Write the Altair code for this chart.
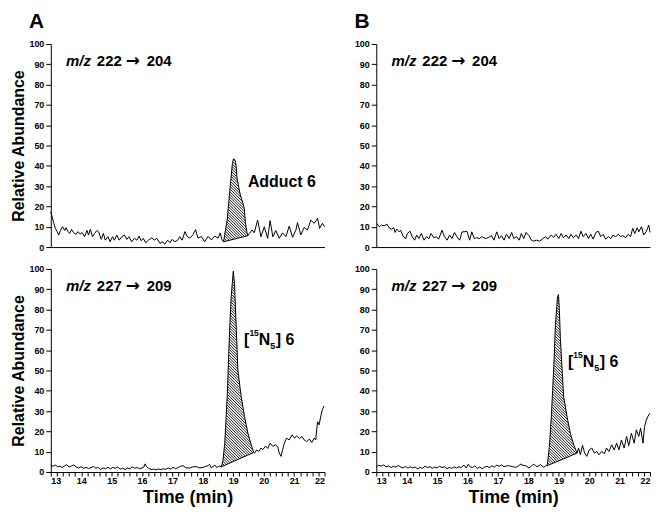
import altair as alt
import numpy as np
import pandas as pd

# ---------------- data ----------------
A_TOP_T = [13.00, 13.10, 13.15, 13.21, 13.26, 13.32, 13.39, 13.46, 13.50, 13.57, 13.62, 13.68, 13.75, 13.83,
           13.89, 13.97, 14.03, 14.11, 14.19, 14.24, 14.30, 14.37, 14.44, 14.52, 14.57, 14.66, 14.73, 14.79,
           14.88, 14.95, 15.03, 15.09, 15.17, 15.25, 15.33, 15.42, 15.50, 15.57, 15.66, 15.75, 15.83, 15.90,
           15.97, 16.04, 16.12, 16.21, 16.32, 16.40, 16.48, 16.59, 16.66, 16.75, 16.84, 16.92, 16.99, 17.08,
           17.17, 17.24, 17.32, 17.41, 17.49, 17.57, 17.68, 17.76, 17.84, 17.95, 18.06, 18.17, 18.28, 18.39,
           18.50, 18.57, 18.63, 18.68, 18.80, 18.90, 18.97, 19.01, 19.07, 19.10, 19.12, 19.16, 19.23, 19.32,
           19.36, 19.40, 19.45, 19.48, 19.53, 19.62, 19.69, 19.80, 19.91, 20.02, 20.13, 20.21, 20.30, 20.40,
           20.51, 20.62, 20.73, 20.84, 20.95, 21.06, 21.11, 21.22, 21.33, 21.44, 21.55, 21.66, 21.77, 21.84,
           21.93, 22.00]
A_TOP_V = [17.4, 11.7, 9.2, 7.6, 5.9, 8.2, 10.0, 8.2, 9.5, 7.6, 6.7, 8.7, 7.1, 6.2,
           7.6, 6.4, 7.1, 5.1, 8.2, 5.9, 8.7, 5.1, 6.7, 8.2, 7.6, 3.8, 6.7, 3.4,
           5.1, 2.6, 5.1, 3.4, 5.9, 3.4, 5.1, 5.9, 3.8, 5.1, 2.6, 4.3, 3.4, 5.4,
           3.1, 4.3, 2.1, 3.4, 4.6, 3.4, 4.3, 1.8, 2.6, 1.5, 3.4, 2.1, 3.8, 2.6,
           3.4, 5.1, 3.4, 7.6, 5.1, 4.4, 6.1, 8.6, 4.4, 5.2, 2.6, 5.2, 3.5, 5.4,
           4.4, 6.9, 3.5, 2.6, 13.3, 30.0, 41.0, 43.5, 42.5, 39.0, 34.0, 31.0, 25.6, 21.5,
           19.0, 12.0, 7.0, 5.6, 6.7, 8.4, 7.0, 13.3, 5.1, 10.0, 4.3, 13.0, 5.1, 8.1,
           4.3, 7.0, 5.1, 10.3, 4.8, 8.4, 12.0, 6.0, 9.7, 8.4, 13.3, 11.7, 14.1, 9.2,
           11.7, 10.0]
A_TOP_PEAK = [18.68, 19.48]

B_TOP_T = [13.02, 13.10, 13.17, 13.26, 13.35, 13.42, 13.50, 13.57, 13.62, 13.67, 13.75, 13.80, 13.89, 13.97,
           14.02, 14.11, 14.18, 14.26, 14.33, 14.40, 14.48, 14.57, 14.65, 14.73, 14.80, 14.89, 14.98, 15.05,
           15.16, 15.24, 15.33, 15.41, 15.49, 15.57, 15.65, 15.74, 15.82, 15.89, 15.98, 16.07, 16.14, 16.22,
           16.30, 16.39, 16.47, 16.58, 16.68, 16.79, 16.87, 16.96, 17.04, 17.12, 17.20, 17.28, 17.37, 17.45,
           17.52, 17.61, 17.70, 17.77, 17.85, 17.93, 18.02, 18.10, 18.17, 18.26, 18.37, 18.48, 18.57, 18.64,
           18.75, 18.83, 18.91, 19.00, 19.08, 19.15, 19.24, 19.33, 19.40, 19.48, 19.57, 19.65, 19.73, 19.80,
           19.89, 19.98, 20.05, 20.13, 20.22, 20.30, 20.38, 20.46, 20.54, 20.63, 20.71, 20.78, 20.87, 20.96,
           21.03, 21.11, 21.20, 21.28, 21.36, 21.43, 21.50, 21.58, 21.63, 21.72, 21.79, 21.87, 21.96, 22.00]
B_TOP_V = [11.6, 10.0, 10.8, 10.5, 11.3, 9.5, 8.8, 9.5, 7.2, 8.8, 7.5, 8.3, 5.1, 4.2,
           6.7, 7.8, 5.1, 3.4, 5.9, 4.2, 6.7, 3.4, 5.1, 4.2, 6.7, 4.6, 5.1, 3.9,
           8.3, 5.1, 3.4, 5.9, 4.2, 7.2, 5.1, 3.4, 7.5, 7.5, 7.8, 3.4, 7.5, 4.2,
           4.6, 4.2, 5.1, 4.2, 4.6, 5.6, 3.4, 7.5, 4.2, 5.6, 3.4, 6.3, 4.2, 7.2,
           4.2, 5.1, 3.4, 6.7, 4.2, 7.2, 5.6, 3.4, 2.9, 3.4, 2.9, 4.2, 5.1, 3.9,
           5.9, 4.8, 6.3, 4.2, 6.7, 4.6, 5.9, 4.2, 6.3, 4.6, 5.9, 4.2, 7.8, 5.1,
           6.7, 4.2, 6.3, 3.9, 7.2, 7.8, 5.1, 6.3, 3.9, 5.1, 4.2, 5.9, 5.1, 6.3,
           5.1, 5.6, 4.6, 6.3, 5.1, 9.2, 6.7, 9.5, 7.5, 10.0, 5.9, 7.5, 10.8, 7.2]

A_BOT_T = [13.00, 13.08, 13.15, 13.22, 13.30, 13.38, 13.45, 13.52, 13.60, 13.68, 13.76, 13.84, 13.92, 14.00,
           14.08, 14.16, 14.24, 14.32, 14.40, 14.48, 14.56, 14.64, 14.72, 14.80, 14.88, 14.96, 15.04, 15.12,
           15.20, 15.28, 15.36, 15.44, 15.52, 15.60, 15.68, 15.76, 15.84, 15.92, 16.00, 16.06, 16.10, 16.15,
           16.22, 16.30, 16.38, 16.46, 16.54, 16.62, 16.70, 16.78, 16.86, 16.94, 17.02, 17.10, 17.18, 17.26,
           17.35, 17.45, 17.57, 17.68, 17.79, 17.90, 18.01, 18.10, 18.17, 18.22, 18.28, 18.39, 18.45, 18.50,
           18.56, 18.61, 18.66, 18.72, 18.80, 18.88, 18.93, 19.00, 19.04, 19.10, 19.15, 19.26, 19.37, 19.48,
           19.59, 19.67, 19.70, 19.77, 19.84, 19.91, 19.97, 20.06, 20.13, 20.21, 20.30, 20.38, 20.46, 20.51,
           20.57, 20.62, 20.68, 20.75, 20.84, 20.93, 21.01, 21.08, 21.17, 21.26, 21.33, 21.41, 21.50, 21.58,
           21.66, 21.71, 21.77, 21.82, 21.88, 21.93, 21.99]
A_BOT_V = [3.5, 2.8, 3.4, 2.6, 2.9, 2.2, 3.0, 3.6, 2.5, 3.0, 3.5, 2.4, 2.0, 2.6,
           1.8, 2.3, 1.7, 2.2, 2.7, 1.9, 2.2, 1.2, 2.0, 1.6, 2.4, 1.5, 2.3, 1.8,
           2.5, 1.4, 1.9, 1.2, 2.0, 1.6, 2.6, 1.8, 2.2, 1.6, 2.0, 2.5, 4.0, 2.6,
           1.8, 1.2, 1.4, 1.1, 1.5, 1.2, 1.6, 1.3, 2.0, 1.5, 2.3, 1.6, 2.2, 2.8,
           3.1, 2.0, 2.0, 2.6, 2.6, 2.0, 2.3, 2.8, 3.1, 3.8, 2.0, 3.4, 2.2, 2.6,
           3.0, 2.6, 5.5, 14.2, 37.1, 69.8, 86.1, 98.9, 92.6, 69.8, 50.2, 37.1, 27.3, 19.1,
           13.4, 9.6, 9.3, 10.9, 10.1, 11.8, 11.0, 12.8, 11.6, 14.2, 12.6, 13.4, 12.5, 9.3,
           7.7, 10.9, 14.2, 16.7, 15.8, 18.3, 16.7, 17.8, 16.5, 17.5, 15.8, 15.0, 16.2, 14.5,
           16.7, 15.8, 24.8, 23.2, 27.6, 30.9, 32.5]
A_BOT_PEAK = [18.61, 19.67]

B_BOT_T = [13.00, 13.08, 13.16, 13.24, 13.32, 13.40, 13.48, 13.56, 13.64, 13.72, 13.80, 13.88, 13.96, 14.04,
           14.12, 14.20, 14.28, 14.36, 14.44, 14.52, 14.60, 14.68, 14.76, 14.84, 14.92, 15.00, 15.08, 15.16,
           15.24, 15.32, 15.40, 15.48, 15.56, 15.64, 15.72, 15.80, 15.88, 15.96, 16.02, 16.08, 16.16, 16.24,
           16.32, 16.40, 16.48, 16.56, 16.64, 16.72, 16.80, 16.88, 16.96, 17.04, 17.12, 17.20, 17.28, 17.37,
           17.48, 17.59, 17.67, 17.75, 17.83, 17.91, 18.02, 18.10, 18.18, 18.24, 18.29, 18.40, 18.51, 18.59,
           18.62, 18.69, 18.76, 18.84, 18.89, 18.96, 18.99, 19.02, 19.05, 19.11, 19.16, 19.27, 19.38, 19.49,
           19.60, 19.65, 19.71, 19.78, 19.85, 19.92, 20.00, 20.09, 20.17, 20.25, 20.32, 20.41, 20.50, 20.57,
           20.65, 20.74, 20.82, 20.90, 20.98, 21.06, 21.15, 21.23, 21.30, 21.39, 21.48, 21.55, 21.63, 21.69,
           21.77, 21.82, 21.88, 21.93, 21.99]
B_BOT_V = [2.6, 3.3, 2.9, 3.5, 2.6, 3.0, 2.2, 2.8, 2.4, 3.2, 2.5, 2.0, 2.8, 1.9,
           2.6, 2.0, 2.4, 1.5, 2.3, 1.8, 2.9, 2.2, 2.6, 1.8, 2.4, 2.0, 2.8, 2.2,
           2.6, 1.7, 2.2, 1.8, 2.5, 2.0, 2.6, 2.2, 3.4, 2.0, 3.8, 2.6, 2.2, 3.0,
           1.8, 2.5, 1.6, 2.4, 2.8, 2.2, 3.0, 2.4, 3.4, 2.8, 3.5, 2.6, 3.0, 3.1,
           2.6, 2.3, 3.0, 3.9, 3.2, 3.1, 2.0, 3.0, 3.9, 3.0, 2.6, 3.6, 2.3, 3.3,
           3.1, 12.1, 28.4, 52.9, 72.5, 86.4, 87.4, 79.6, 66.5, 50.2, 37.1, 27.3, 19.1, 13.4,
           9.3, 11.8, 8.5, 13.2, 9.3, 7.7, 10.9, 11.8, 9.3, 10.1, 8.5, 10.1, 9.0, 11.8,
           10.1, 13.4, 10.9, 14.2, 10.9, 15.8, 11.8, 17.5, 12.9, 19.1, 14.2, 20.8, 17.5, 21.6,
           14.2, 22.4, 25.7, 27.3, 28.9]
B_BOT_PEAK = [18.62, 19.60]

X_TICK_VALUES = [round(13 + 0.2 * i, 1) for i in range(46)]
Y_TICK_VALUES = list(range(0, 101, 10))

# ---------------- style ----------------
FONT = "Liberation Sans"
ARROW_FONT = "DejaVu Sans"
W, H = 275, 204
HATCH_SLOPE = 15.0   # value units per minute -> ~45 degrees on screen
HATCH_STEP = 0.09    # minutes between hatch lines


def hatch_segments(ts, vs, t0, t1):
    ts = np.asarray(ts, float)
    vs = np.asarray(vs, float)
    v0 = np.interp(t0, ts, vs)
    v1 = np.interp(t1, ts, vs)
    grid = np.linspace(t0, t1, 5000)
    upper = np.interp(grid, ts, vs)
    lower = v0 + (v1 - v0) * (grid - t0) / (t1 - t0)
    vmax = upper.max()
    rows, seg = [], 0
    for tk in np.arange(t0 + HATCH_STEP / 2, t1 + vmax / HATCH_SLOPE + HATCH_STEP, HATCH_STEP):
        vl = HATCH_SLOPE * (tk - grid)
        inside = (vl >= lower) & (vl <= upper)
        idx = np.flatnonzero(inside)
        if idx.size == 0:
            continue
        br = np.flatnonzero(np.diff(idx) > 1)
        starts = np.r_[idx[0], idx[br + 1]]
        ends = np.r_[idx[br], idx[-1]]
        for s, e in zip(starts, ends):
            if e - s < 2:
                continue
            rows.append({"t": grid[s], "v": vl[s], "seg": seg})
            rows.append({"t": grid[e], "v": vl[e], "seg": seg})
            seg += 1
    return pd.DataFrame(rows)


def encs(bottom, ytitle):
    if bottom:
        xax = alt.Axis(values=X_TICK_VALUES, title="Time (min)", grid=False,
                       labelExpr="abs(datum.value - round(datum.value)) < 0.01 ? round(datum.value) : ''",
                       labelOverlap=False, tickSize=4, labelPadding=1, titlePadding=3,
                       titleFontSize=18, labelFontSize=9)
    else:
        xax = alt.Axis(labels=False, ticks=False, title=None, grid=False)
    yax = alt.Axis(values=Y_TICK_VALUES, tickSize=5, labelPadding=2, labelFontSize=9, grid=False,
                   title="Relative Abundance" if ytitle else None, titlePadding=2, titleFontSize=16)
    x = alt.X("t:Q", scale=alt.Scale(domain=[13, 22], nice=False, zero=False), axis=xax)
    y = alt.Y("v:Q", scale=alt.Scale(domain=[0, 100], nice=False), axis=yax)
    return x, y


def text_layer(x, y, t, v, text, size, dx=0, dy=0, italic=False, font=FONT):
    df = pd.DataFrame({"t": [t], "v": [v], "label": [text]})
    kw = dict(align="left", baseline="alphabetic", font=font, fontSize=size, fontWeight="bold",
              color="black", dx=dx, dy=dy)
    if italic:
        kw["fontStyle"] = "italic"
    return alt.Chart(df).mark_text(**kw).encode(x=x, y=y, text="label:N")


def panel(ts, vs, peak, mz_from, mz_to, bottom, ytitle, letter, extra):
    x, y = encs(bottom, ytitle)
    trace = alt.Chart(pd.DataFrame({"t": ts, "v": vs})).mark_line(
        color="black", strokeWidth=1, interpolate="linear").encode(x=x, y=y)
    layers = [trace]
    if peak is not None:
        t0, t1 = peak
        v0 = float(np.interp(t0, ts, vs))
        v1 = float(np.interp(t1, ts, vs))
        hd = hatch_segments(ts, vs, t0, t1)
        layers.append(alt.Chart(hd).mark_line(color="black", strokeWidth=0.9).encode(
            x=x, y=y, detail="seg:N"))
        layers.append(alt.Chart(pd.DataFrame({"t": [t0, t1], "v": [v0, v1]})).mark_line(
            color="black", strokeWidth=1).encode(x=x, y=y))
    layers.append(text_layer(x, y, 13.5, 89, "m/z", 15, italic=True))
    layers.append(text_layer(x, y, 13.5, 89, mz_from, 15, dx=31))
    layers.append(text_layer(x, y, 13.5, 89, "\u2192", 17, dx=60, dy=0, font=ARROW_FONT))
    layers.append(text_layer(x, y, 13.5, 89, mz_to, 15, dx=81))
    for spec in extra:
        layers.append(text_layer(x, y, *spec))
    ch = alt.layer(*layers).properties(width=W, height=H)
    if letter:
        ch = ch.properties(title=alt.TitleParams(text=letter, anchor="start", frame="group", fontSize=21,
                                                 font=FONT, fontWeight="bold", color="black",
                                                 dx=-22, offset=8))
    return ch


def n15(t, v):
    return [(t, v, "[", 16, 0, 0), (t, v, "15", 8.5, 5.5, -9), (t, v, "N", 16, 15, 0),
            (t, v, "5", 9, 26.5, 4), (t, v, "] 6", 16, 32, 0)]


a_top = panel(A_TOP_T, A_TOP_V, A_TOP_PEAK, "222", "204", False, True, "A",
              [(19.48, 29.7, "Adduct 6", 16)])
b_top = panel(B_TOP_T, B_TOP_V, None, "222", "204", False, False, "B", [])
a_bot = panel(A_BOT_T, A_BOT_V, A_BOT_PEAK, "227", "209", True, True, None, n15(19.35, 62.4))
b_bot = panel(B_BOT_T, B_BOT_V, B_BOT_PEAK, "227", "209", True, False, None, n15(19.30, 51.8))

col_a = alt.vconcat(a_top, a_bot, spacing=13)
col_b = alt.vconcat(b_top, b_bot, spacing=13)

chart = alt.hconcat(col_a, col_b, spacing=27).properties(
    padding={"left": 2, "top": 2, "right": 2, "bottom": 2},
    background="white"
).configure_view(stroke=None).configure_axis(
    grid=False, domainColor="black", tickColor="black", labelColor="black", titleColor="black",
    labelFont=FONT, titleFont=FONT, labelFontWeight="bold", titleFontWeight="bold",
    domainWidth=1, tickWidth=1
)

chart.save("out.html", embed_options={"renderer": "svg", "actions": False})
